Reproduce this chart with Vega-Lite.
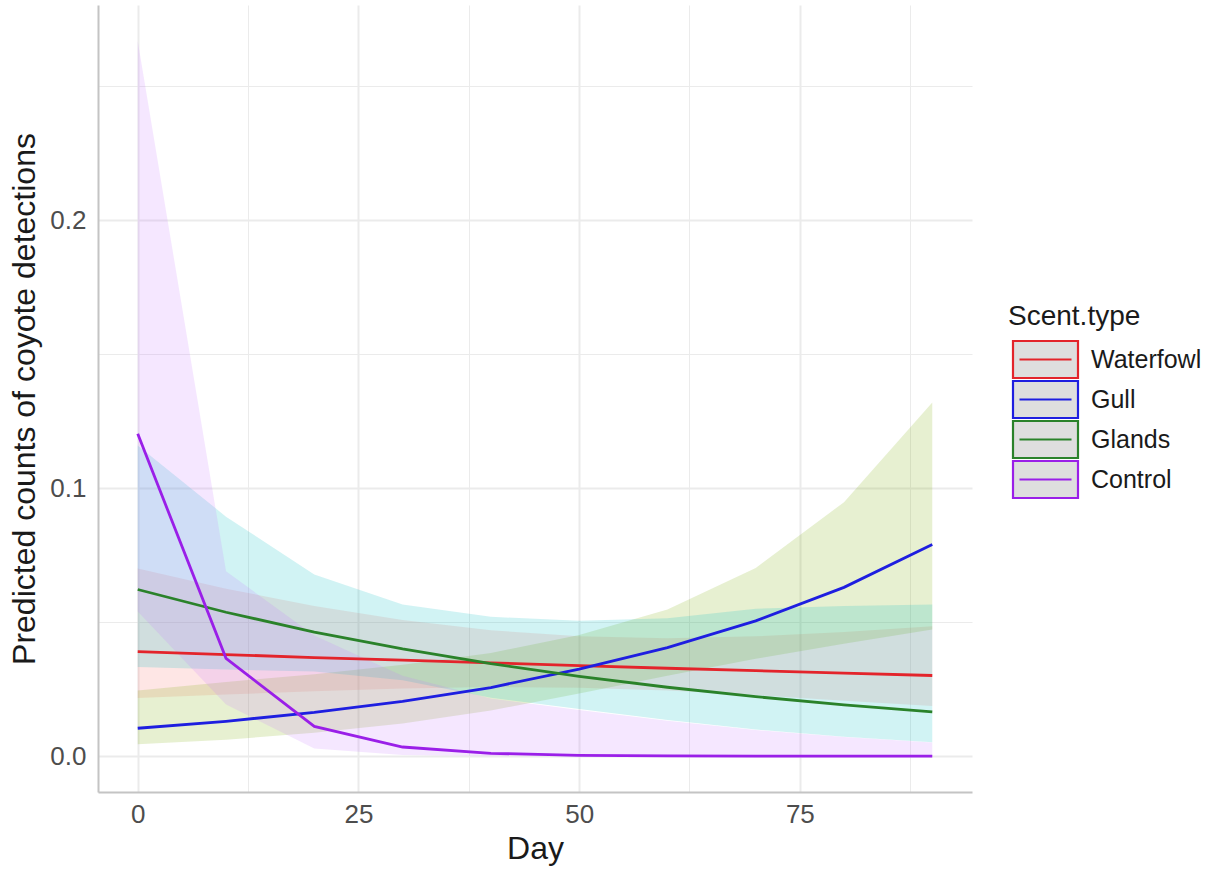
{
  "$schema": "https://vega.github.io/schema/vega-lite/v6.json",
  "width": 874,
  "height": 787,
  "autosize": {"type": "none"},
  "padding": {"left": 98, "top": 5, "right": 240, "bottom": 77},
  "background": "white",
  "config": {"view": {"stroke": null}, "font": "Liberation Sans"},
  "data": {
    "values": [
      {"Scent": "Waterfowl", "Day": 0, "fit": 0.0390, "lo": 0.0217, "hi": 0.0700},
      {"Scent": "Waterfowl", "Day": 10, "fit": 0.0379, "lo": 0.0230, "hi": 0.0625},
      {"Scent": "Waterfowl", "Day": 20, "fit": 0.0368, "lo": 0.0242, "hi": 0.0560},
      {"Scent": "Waterfowl", "Day": 30, "fit": 0.0358, "lo": 0.0252, "hi": 0.0508},
      {"Scent": "Waterfowl", "Day": 40, "fit": 0.0348, "lo": 0.0258, "hi": 0.0470},
      {"Scent": "Waterfowl", "Day": 50, "fit": 0.0338, "lo": 0.0255, "hi": 0.0447},
      {"Scent": "Waterfowl", "Day": 60, "fit": 0.0328, "lo": 0.0245, "hi": 0.0440},
      {"Scent": "Waterfowl", "Day": 70, "fit": 0.0319, "lo": 0.0228, "hi": 0.0447},
      {"Scent": "Waterfowl", "Day": 80, "fit": 0.0310, "lo": 0.0207, "hi": 0.0463},
      {"Scent": "Waterfowl", "Day": 90, "fit": 0.0301, "lo": 0.0187, "hi": 0.0485},
      {"Scent": "Gull", "Day": 0, "fit": 0.0104, "lo": 0.0044, "hi": 0.0245},
      {"Scent": "Gull", "Day": 10, "fit": 0.0130, "lo": 0.0061, "hi": 0.0277},
      {"Scent": "Gull", "Day": 20, "fit": 0.0163, "lo": 0.0087, "hi": 0.0306},
      {"Scent": "Gull", "Day": 30, "fit": 0.0204, "lo": 0.0122, "hi": 0.0341},
      {"Scent": "Gull", "Day": 40, "fit": 0.0256, "lo": 0.0170, "hi": 0.0385},
      {"Scent": "Gull", "Day": 50, "fit": 0.0325, "lo": 0.0234, "hi": 0.0452},
      {"Scent": "Gull", "Day": 60, "fit": 0.0405, "lo": 0.0300, "hi": 0.0547},
      {"Scent": "Gull", "Day": 70, "fit": 0.0505, "lo": 0.0363, "hi": 0.0702},
      {"Scent": "Gull", "Day": 80, "fit": 0.0630, "lo": 0.0419, "hi": 0.0948},
      {"Scent": "Gull", "Day": 90, "fit": 0.0790, "lo": 0.0473, "hi": 0.1320},
      {"Scent": "Glands", "Day": 0, "fit": 0.0622, "lo": 0.0333, "hi": 0.1160},
      {"Scent": "Glands", "Day": 10, "fit": 0.0537, "lo": 0.0323, "hi": 0.0894},
      {"Scent": "Glands", "Day": 20, "fit": 0.0463, "lo": 0.0316, "hi": 0.0678},
      {"Scent": "Glands", "Day": 30, "fit": 0.0400, "lo": 0.0283, "hi": 0.0566},
      {"Scent": "Glands", "Day": 40, "fit": 0.0345, "lo": 0.0218, "hi": 0.0520},
      {"Scent": "Glands", "Day": 50, "fit": 0.0298, "lo": 0.0176, "hi": 0.0505},
      {"Scent": "Glands", "Day": 60, "fit": 0.0257, "lo": 0.0135, "hi": 0.0515},
      {"Scent": "Glands", "Day": 70, "fit": 0.0222, "lo": 0.0099, "hi": 0.0550},
      {"Scent": "Glands", "Day": 80, "fit": 0.0191, "lo": 0.0072, "hi": 0.0560},
      {"Scent": "Glands", "Day": 90, "fit": 0.0165, "lo": 0.0052, "hi": 0.0566},
      {"Scent": "Control", "Day": 0, "fit": 0.1203, "lo": 0.0540, "hi": 0.2670},
      {"Scent": "Control", "Day": 10, "fit": 0.0365, "lo": 0.0193, "hi": 0.0690},
      {"Scent": "Control", "Day": 20, "fit": 0.0111, "lo": 0.0028, "hi": 0.0450},
      {"Scent": "Control", "Day": 30, "fit": 0.0034, "lo": 0.0004, "hi": 0.0300},
      {"Scent": "Control", "Day": 40, "fit": 0.00103, "lo": 0.00004, "hi": 0.0215},
      {"Scent": "Control", "Day": 50, "fit": 0.00031, "lo": 0.0, "hi": 0.0172},
      {"Scent": "Control", "Day": 60, "fit": 0.0001, "lo": 0.0, "hi": 0.0132},
      {"Scent": "Control", "Day": 70, "fit": 0.00003, "lo": 0.0, "hi": 0.0097},
      {"Scent": "Control", "Day": 80, "fit": 0.00001, "lo": 0.0, "hi": 0.0071},
      {"Scent": "Control", "Day": 90, "fit": 0.000003, "lo": 0.0, "hi": 0.0051}
    ]
  },
  "layer": [
    {
      "mark": {"type": "area", "fillOpacity": 0.18, "strokeWidth": 0},
      "encoding": {
        "x": {
          "field": "Day", "type": "quantitative",
          "scale": {"domain": [-4.5, 94.5], "nice": false, "zero": false},
          "axis": {
            "title": "Day",
            "values": [0, 12.5, 25, 37.5, 50, 62.5, 75, 87.5],
            "labelExpr": "datum.value % 25 === 0 ? format(datum.value, 'd') : ''",
            "ticks": false,
            "labelFontSize": 26, "labelColor": "#4D4D4D", "labelPadding": 9, "labelFont": "Liberation Sans",
            "titleFontSize": 32, "titleColor": "#1A1A1A", "titleFontWeight": "normal", "titlePadding": 6, "titleFont": "Liberation Sans",
            "domainColor": "#C4C4C4", "domainWidth": 2,
            "gridColor": "#EBEBEB",
            "gridWidth": {"condition": {"test": "datum.value % 25 !== 0", "value": 1}, "value": 2}
          }
        },
        "y": {
          "field": "lo", "type": "quantitative",
          "scale": {"domain": [-0.0134, 0.2804], "nice": false, "zero": false},
          "axis": {
            "title": "Predicted counts of coyote detections",
            "values": [0, 0.05, 0.1, 0.15, 0.2, 0.25],
            "labelExpr": "abs(datum.value * 10 - round(datum.value * 10)) < 0.000001 ? format(datum.value, '.1f') : ''",
            "ticks": false,
            "labelFontSize": 26, "labelColor": "#4D4D4D", "labelPadding": 12, "labelFont": "Liberation Sans",
            "titleFontSize": 32, "titleColor": "#1A1A1A", "titleFontWeight": "normal", "titlePadding": 8, "titleFont": "Liberation Sans",
            "domainColor": "#C4C4C4", "domainWidth": 2,
            "gridColor": "#EBEBEB",
            "gridWidth": {"condition": {"test": "abs(datum.value * 10 - round(datum.value * 10)) > 0.000001", "value": 1}, "value": 2}
          }
        },
        "y2": {"field": "hi"},
        "fill": {
          "field": "Scent", "type": "nominal",
          "scale": {"domain": ["Control", "Glands", "Gull", "Waterfowl"], "range": ["#C77CFF", "#00BFC4", "#7CAE00", "#F8766D"]},
          "legend": null
        }
      }
    },
    {
      "mark": {"type": "line", "strokeWidth": 2.8},
      "encoding": {
        "x": {"field": "Day", "type": "quantitative"},
        "y": {"field": "fit", "type": "quantitative", "title": "Predicted counts of coyote detections"},
        "stroke": {
          "field": "Scent", "type": "nominal",
          "scale": {"domain": ["Waterfowl", "Gull", "Glands", "Control"], "range": ["#E3242B", "#1E1EE0", "#2A822A", "#9A1FE8"]},
          "legend": {
            "title": "Scent.type",
            "orient": "none", "legendX": 910, "legendY": 298,
            "titleFontSize": 28, "titleFontWeight": "normal", "titleColor": "#1A1A1A", "titleFont": "Liberation Sans", "titlePadding": 12,
            "labelFontSize": 25, "labelColor": "#1A1A1A", "labelFont": "Liberation Sans", "labelOffset": 29,
            "symbolType": "M-2.1667,-1.2333H2.1667V1.2333H-2.1667Z M-1.7333,0H1.7333",
            "symbolSize": 900, "symbolOffset": 21, "symbolFillColor": "#DEDEDE", "symbolStrokeWidth": 2.2, "symbolOpacity": 1,
            "rowPadding": -7
          }
        }
      }
    }
  ]
}
